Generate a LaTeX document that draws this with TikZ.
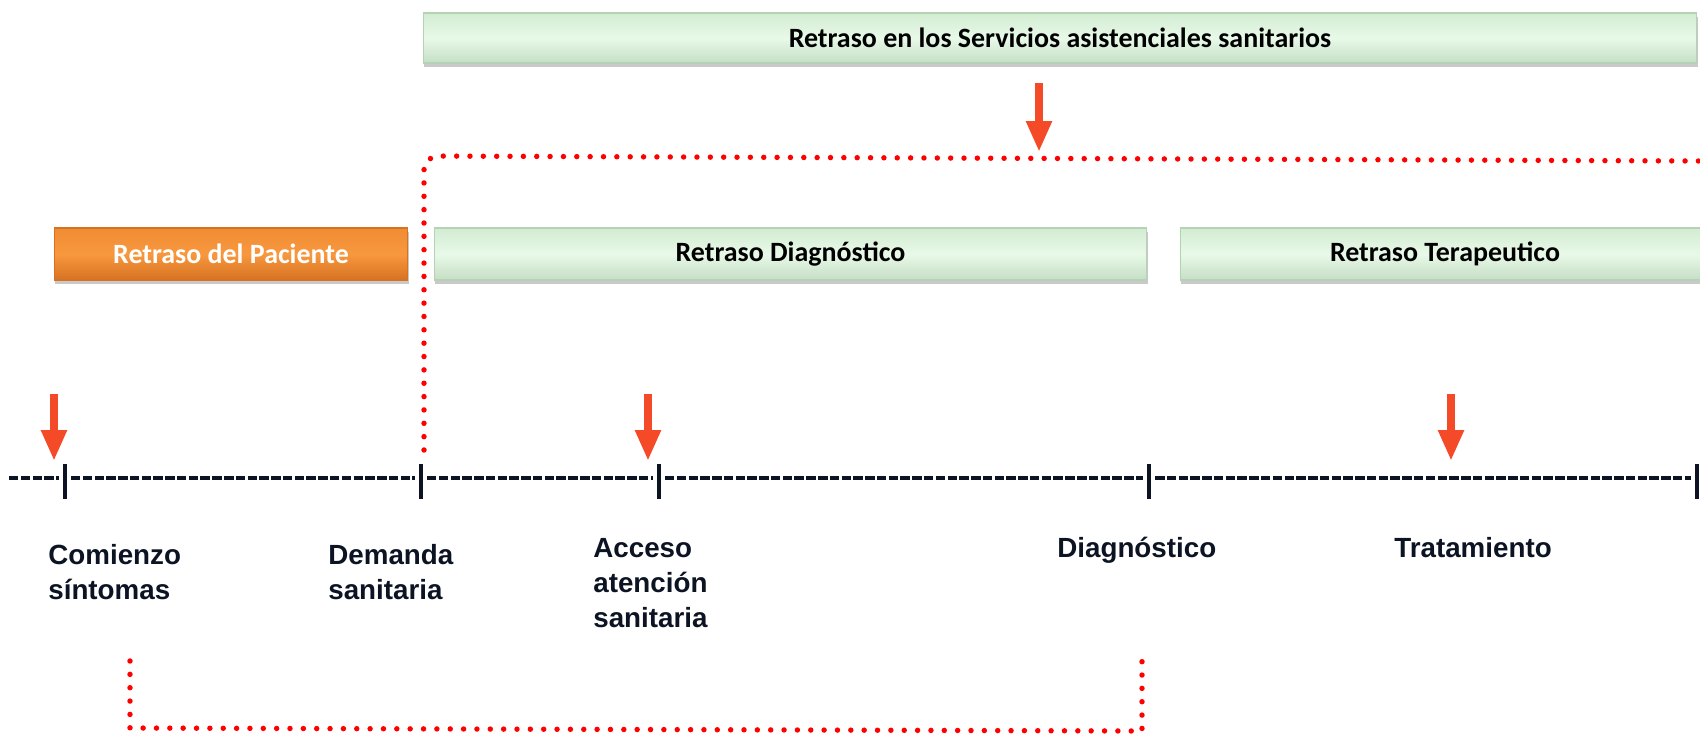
\documentclass[tikz,border=0pt]{standalone}
\usepackage{fontspec}
\setmainfont{Liberation Sans}
\newfontfamily\calibri{Carlito}
\usepackage{tikz}
\usetikzlibrary{arrows.meta, positioning, shadows}
\definecolor{Vermilion}{RGB}{244, 74, 40}
\definecolor{DotRed}{RGB}{255, 0, 0}
\definecolor{InkNavy}{RGB}{12, 20, 36}
\definecolor{MintTop}{RGB}{210, 236, 210}
\definecolor{MintMid}{RGB}{232, 249, 232}
\definecolor{MintEdge}{RGB}{180, 210, 180}
\definecolor{PumpkinTop}{RGB}{240, 140, 52}
\definecolor{PumpkinMid}{RGB}{248, 152, 62}
\definecolor{PumpkinEdge}{RGB}{214, 114, 34}

\begin{document}
\begin{tikzpicture}[
    x=0.02cm, y=-0.02cm,
    phase/.style={rectangle, minimum height=1.04cm, inner sep=0pt, draw=MintEdge, line width=0.6pt,
        top color=MintTop, bottom color=MintTop!94!black, middle color=MintMid,
        drop shadow={shadow xshift=0.6pt, shadow yshift=-2.5pt, opacity=0.3, fill=black!70},
        font=\calibri\bfseries\fontsize{15.9}{19}\selectfont},
    patient/.style={phase, draw=PumpkinEdge, top color=PumpkinTop, bottom color=PumpkinEdge,
        middle color=PumpkinMid, text=white},
    pointer/.style={draw=Vermilion, line width=4.5pt, -{Triangle[width=13.7pt, length=17.6pt]}},
    reddots/.style={draw=DotRed, line width=3.1pt, line cap=round, dash pattern=on 0pt off 7.6pt},
    tickbar/.style={draw=InkNavy, line width=1.8pt},
    dashrule/.style={draw=InkNavy, line width=2.2pt, dash pattern=on 5.4pt off 1.3pt},
    milestone/.style={anchor=north west, align=left, inner sep=0pt, text=InkNavy,
        font=\bfseries\fontsize{15.8}{19.9}\selectfont}
]
\useasboundingbox (0,0) rectangle (1700,734);

% Delay bands
\node[phase, minimum width=25.48cm, minimum height=1cm] (services) at (1060,38) {Retraso en los Servicios asistenciales sanitarios};
\node[patient, minimum width=7.08cm] (patient) at (231,254) {Retraso del Paciente};
\node[phase, minimum width=14.26cm] (diagnostic) at (790.5,254) {Retraso Diagnóstico};
\node[phase, minimum width=10.6cm] (therapeutic) at (1445,254) {Retraso Terapeutico};

% Dotted brackets
\coordinate (srvfoot) at (424,450);
\coordinate (srvend) at (1700,161);
\draw[reddots, rounded corners=8pt] (srvfoot) -- (424,156) -- (srvend);
\coordinate (onsetfoot) at (130,661);
\coordinate (diagfoot) at (1142,661);
\draw[reddots] (onsetfoot) -- (130,728) -- (1142,731) -- (diagfoot);

% Arrows
\draw[pointer] (1039,83) -- (1039,152);
\foreach \x in {54,648,1451} {
    \draw[pointer] (\x,394) -- (\x,461);
}

% Timeline
\foreach \a/\b in {9/59, 71/415, 427/653, 665/1143, 1155/1691} {
    \draw[dashrule] (\a,478) -- (\b,478);
}
\foreach \x in {65,421,659,1149,1697} {
    \draw[tickbar] (\x,464) -- (\x,499);
}

% Milestones
\node[milestone] (onset) at (48,544) {Comienzo\\síntomas};
\node[milestone] (demand) at (328,544) {Demanda\\sanitaria};
\node[milestone] (access) at (593,538) {Acceso\\atención\\sanitaria};
\node[milestone] (diagnosis) at (1057,537) {Diagnóstico};
\node[milestone] (treatment) at (1394,537) {Tratamiento};

\end{tikzpicture}
\end{document}
